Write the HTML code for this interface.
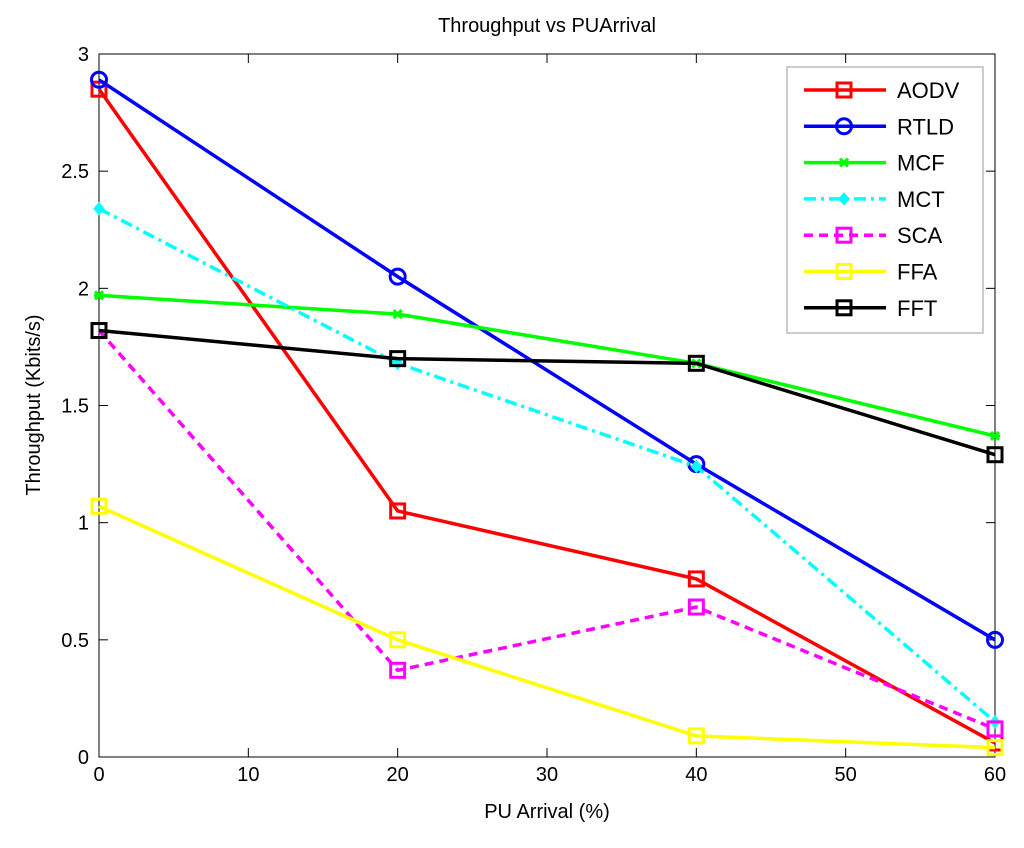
<!DOCTYPE html>
<html><head><meta charset="utf-8"><style>
body{margin:0;background:#fff}
svg text{font-family:"Liberation Sans",Arial,sans-serif;fill:#000}
</style></head><body>
<svg id="chart" width="1024" height="843" viewBox="0 0 1024 843" xmlns="http://www.w3.org/2000/svg">
<rect width="1024" height="843" fill="#fff"/>
<g id="axes"></g><g id="series"></g><g id="legend"></g>
</svg>
<script>
const categories=[0,20,40,60];
const xTicks=[0,10,20,30,40,50,60];
const yTicks=[0,0.5,1,1.5,2,2.5,3];
const yTickLabels=["0","0.5","1","1.5","2","2.5","3"];
const seriesNames=["AODV","RTLD","MCF","MCT","SCA","FFA","FFT"];
const aodv=[2.85,1.05,0.76,0.06];
const rtld=[2.89,2.05,1.25,0.50];
const mcf=[1.97,1.89,1.68,1.37];
const mct=[2.34,1.68,1.24,0.15];
const sca=[1.82,0.37,0.64,0.12];
const ffa=[1.07,0.50,0.09,0.04];
const fft=[1.82,1.70,1.68,1.29];
const seriesValues=[aodv,rtld,mcf,mct,sca,ffa,fft];
const colors=["#ff0000","#0000ff","#00ff00","#00ffff","#ff00ff","#ffff00","#000000"];
const markers=["square","circle","star","diamond","square","square","square"];
const dashes=["","","","12,5,3,5","9,6","",""];
const NS="http://www.w3.org/2000/svg";
const L=99,R=995,T=54,B=757;
const xs=v=>L+(v-0)/(60-0)*(R-L);
const ys=v=>B-(v-0)/(3-0)*(B-T);
function mk(tag,attrs,parent){const e=document.createElementNS(NS,tag);for(const k in attrs)e.setAttribute(k,attrs[k]);parent.appendChild(e);return e;}
const axes=document.getElementById('axes');
const box=mk('rect',{x:L,y:T,width:R-L,height:B-T,fill:'#fff',stroke:'#000','stroke-width':1},axes);


xTicks.forEach(t=>{const x=xs(t);
mk('line',{x1:x,x2:x,y1:B,y2:B-9,stroke:'#000'},axes);mk('line',{x1:x,x2:x,y1:T,y2:T+9,stroke:'#000'},axes);
const tx=mk('text',{x:x,y:B+24,'text-anchor':'middle','font-size':20},axes);tx.textContent=t;

});
yTicks.forEach((t,i)=>{const y=ys(t);
mk('line',{x1:L,x2:L+9,y1:y,y2:y,stroke:'#000'},axes);mk('line',{x1:R,x2:R-9,y1:y,y2:y,stroke:'#000'},axes);
const tx=mk('text',{x:L-10,y:y+7,'text-anchor':'end','font-size':20},axes);tx.textContent=yTickLabels[i];

});
const title=mk('text',{x:547,y:32,'text-anchor':'middle','font-size':20},axes);title.textContent='Throughput vs PUArrival';


const xt=mk('text',{x:547,y:818,'text-anchor':'middle','font-size':20},axes);xt.textContent='PU Arrival (%)';


const yt=mk('text',{x:0,y:0,'text-anchor':'middle','font-size':20,transform:'translate(40,405) rotate(-90)'},axes);yt.textContent='Throughput (Kbits/s)';


function marker(g,type,x,y,c){
 if(type==='square')return mk('rect',{x:x-7,y:y-7,width:14,height:14,fill:'none',stroke:c,'stroke-width':3},g);
 if(type==='circle')return mk('circle',{cx:x,cy:y,r:7.5,fill:'none',stroke:c,'stroke-width':3},g);
 if(type==='star')return mk('path',{d:`M${x-4},${y-4}L${x+4},${y+4}M${x-4},${y+4}L${x+4},${y-4}M${x-5},${y}L${x+5},${y}`,stroke:c,'stroke-width':3},g);
 return mk('path',{d:`M${x},${y-6}L${x+5},${y}L${x},${y+6}L${x-5},${y}Z`,fill:c,stroke:c,'stroke-width':1},g);
}
const sg=document.getElementById('series');
seriesValues.forEach((vals,si)=>{
 const g=mk('g',{},sg);
 
 
 const pts=vals.map((v,i)=>xs(categories[i])+','+ys(v)).join(' ');
 const pl=mk('polyline',{points:pts,fill:'none',stroke:colors[si],'stroke-width':3.5},g);
 if(dashes[si])pl.setAttribute('stroke-dasharray',dashes[si]);
 vals.forEach((v,i)=>{const m=marker(g,markers[si],xs(categories[i]),ys(v),colors[si]);
 
 });
});
const lg=document.getElementById('legend');


mk('rect',{x:787,y:67,width:196,height:266,fill:'#fff',stroke:'#999','stroke-width':1},lg);
seriesNames.forEach((n,si)=>{const y=90+si*36.3;
 const g=mk('g',{},lg);
 
 
 const ln=mk('line',{x1:804,x2:886,y1:y,y2:y,stroke:colors[si],'stroke-width':3.5},g);
 if(dashes[si])ln.setAttribute('stroke-dasharray',dashes[si]);
 marker(g,markers[si],844,y,colors[si]);
 const t=mk('text',{x:897,y:y+8,'font-size':22},g);t.textContent=n;
});
</script>
</body></html>
